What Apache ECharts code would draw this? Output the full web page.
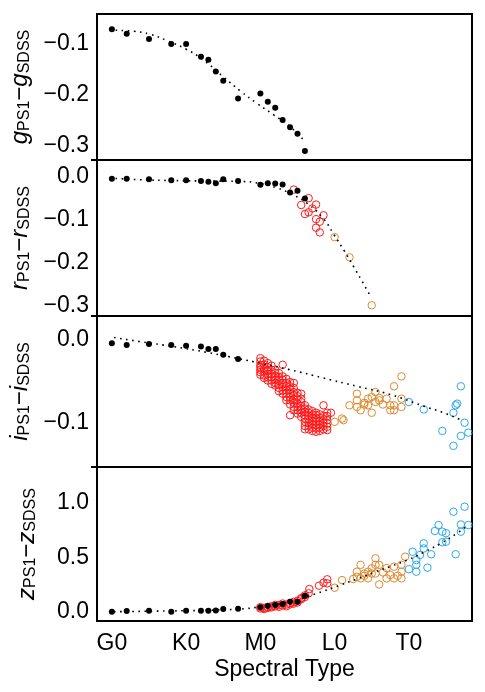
<!DOCTYPE html>
<html>
<head>
<meta charset="utf-8">
<script src="https://cdn.jsdelivr.net/npm/echarts@6/dist/echarts.min.js"></script>
<style>
html, body { margin: 0; padding: 0; background: #fff; }
#chart { width: 485px; height: 692px; }
</style>
</head>
<body>
<div id="chart"></div>
<script>
// spectral type axis: G0=0, K0=10, M0=20, L0=30, T0=40
const xMajor = [0, 10, 20, 30, 40];
const xLabels = ['G0', 'K0', 'M0', 'L0', 'T0'];
const xMinor = [2, 4, 6, 8, 12, 14, 16, 18, 22, 24, 26, 28, 32, 34, 36, 38, 42, 44, 46, 48];

const gMajor = [-0.1, -0.2, -0.3];
const gLabels = ['−0.1', '−0.2', '−0.3'];
const gMinor = [-0.05, -0.075, -0.125, -0.15, -0.175, -0.225, -0.25, -0.275, -0.325];
const rMajor = [0, -0.1, -0.2, -0.3];
const rLabels = ['0.0', '−0.1', '−0.2', '−0.3'];
const rMinor = [0.025, -0.025, -0.05, -0.075, -0.125, -0.15, -0.175, -0.225, -0.25, -0.275];
const iMajor = [0, -0.1];
const iLabels = ['0.0', '−0.1'];
const iMinor = [-0.025, -0.05, -0.075, -0.125, -0.15];
const zMajor = [0, 0.5, 1.0];
const zLabels = ['0.0', '0.5', '1.0'];
const zMinor = [0.1, 0.2, 0.3, 0.4, 0.6, 0.7, 0.8, 0.9, 1.1, 1.2, 1.3];

// g panel
const gBlack = [[0,-0.071],[2,-0.080],[5,-0.090],[8,-0.100],[10,-0.100],[12,-0.125],[13,-0.131],[14,-0.154],[15,-0.172],[17,-0.207],[20,-0.197],[21,-0.213],[22,-0.225],[23,-0.249],[24,-0.263],[25,-0.276],[26,-0.310]];
const gFit = [[0.5,-0.073],[3,-0.075],[5.2,-0.081],[7.4,-0.093],[10,-0.110],[12.3,-0.131],[15,-0.164],[17.3,-0.192],[19.5,-0.216],[21.8,-0.239],[24,-0.262],[25.8,-0.288]];

// r panel
const rBlack = [[0,-0.005],[2,-0.005],[5,-0.006],[8,-0.008],[10,-0.008],[12,-0.010],[13,-0.012],[14,-0.015],[15,-0.006],[17,-0.010],[20,-0.019],[21,-0.015],[22,-0.016],[23,-0.018],[24,-0.037],[25,-0.033],[26,-0.051]];
const rRed = [[24.5,-0.030],[26.5,-0.050],[25.5,-0.066],[27,-0.074],[27.5,-0.065],[26.5,-0.083],[26,-0.087],[28.5,-0.090],[27.5,-0.099],[28,-0.105],[27.5,-0.119],[28,-0.130]];
const rOrange = [[30,-0.141],[32,-0.188],[35,-0.300]];
const rFit = [[0.5,-0.004],[3.8,-0.007],[8.3,-0.009],[12.8,-0.010],[17.3,-0.011],[20,-0.016],[22.2,-0.026],[24,-0.039],[26.3,-0.062],[28.5,-0.098],[29.9,-0.135],[31.3,-0.173],[32.6,-0.211],[33.7,-0.244],[34.8,-0.278]];

// i panel
const iBlack = [[0,-0.004],[2,-0.006],[5,-0.005],[8,-0.006],[10,-0.007],[12,-0.008],[13,-0.011],[14,-0.011],[15,-0.018],[17,-0.023]];
const iRed = [
  [20,-0.022],[20,-0.026],[20,-0.030],[20,-0.033],[20,-0.036],[20,-0.039],[20,-0.042],
  [20.5,-0.025],[20.5,-0.030],[20.5,-0.035],[20.5,-0.038],[20.5,-0.043],[20.5,-0.046],
  [21,-0.028],[21,-0.033],[21,-0.037],[21,-0.041],[21,-0.045],[21,-0.049],
  [21.5,-0.031],[21.5,-0.036],[21.5,-0.041],[21.5,-0.045],[21.5,-0.049],[21.5,-0.053],
  [22,-0.036],[22,-0.040],[22,-0.044],[22,-0.048],[22,-0.052],[22,-0.055],
  [22.5,-0.040],[22.5,-0.045],[22.5,-0.049],[22.5,-0.054],[22.5,-0.058],[22.5,-0.062],
  [23,-0.030],[23,-0.044],[23,-0.048],[23,-0.052],[23,-0.057],[23,-0.061],[23,-0.065],
  [23.5,-0.047],[23.5,-0.052],[23.5,-0.056],[23.5,-0.061],[23.5,-0.065],[23.5,-0.069],[23.5,-0.073],
  [24,-0.051],[24,-0.056],[24,-0.060],[24,-0.065],[24,-0.069],[24,-0.073],[24,-0.078],[24,-0.091],
  [24.5,-0.052],[24.5,-0.058],[24.5,-0.063],[24.5,-0.067],[24.5,-0.072],[24.5,-0.076],[24.5,-0.081],[24.5,-0.085],
  [25,-0.064],[25,-0.068],[25,-0.072],[25,-0.077],[25,-0.081],[25,-0.085],[25,-0.089],
  [25.5,-0.065],[25.5,-0.071],[25.5,-0.075],[25.5,-0.080],[25.5,-0.084],[25.5,-0.088],[25.5,-0.093],
  [26,-0.079],[26,-0.083],[26,-0.087],[26,-0.091],[26,-0.095],[26,-0.099],[26,-0.104],[26,-0.108],
  [26.5,-0.084],[26.5,-0.088],[26.5,-0.092],[26.5,-0.096],[26.5,-0.100],[26.5,-0.104],[26.5,-0.108],
  [27,-0.086],[27,-0.090],[27,-0.094],[27,-0.098],[27,-0.102],[27,-0.106],[27,-0.110],
  [27.5,-0.088],[27.5,-0.091],[27.5,-0.095],[27.5,-0.099],[27.5,-0.103],[27.5,-0.107],[27.5,-0.111],
  [28,-0.090],[28,-0.094],[28,-0.098],[28,-0.102],[28,-0.106],[28,-0.110],
  [28.5,-0.079],[28.5,-0.092],[28.5,-0.096],[28.5,-0.100],[28.5,-0.104],[28.5,-0.108],
  [29,-0.088],[29,-0.092],[29,-0.097],[29,-0.101],[29,-0.105],[29,-0.109],[29.5,-0.088]
];
const iOrange = [[30,-0.099],[31,-0.095],[31.2,-0.097],[32,-0.079],[33,-0.065],[33,-0.073],[33,-0.081],[33.5,-0.085],[34,-0.078],[34,-0.076],[34.5,-0.071],[34.5,-0.079],[35,-0.088],[35,-0.069],[35.5,-0.063],[35.5,-0.075],[36,-0.070],[36,-0.073],[36.5,-0.078],[37,-0.071],[37.5,-0.079],[37.5,-0.085],[38,-0.056],[38,-0.079],[38,-0.085],[39,-0.044],[39,-0.071],[39,-0.081]];
const iBlue = [[40,-0.075],[42,-0.084],[44.5,-0.110],[46,-0.128],[46,-0.088],[46.3,-0.079],[46.5,-0.077],[47,-0.056],[47,-0.116],[47.5,-0.100],[48,-0.112]];
const iFit = [[0.3,0.003],[3.8,-0.002],[8.3,-0.008],[12.8,-0.015],[17.3,-0.023],[20,-0.028],[24,-0.036],[28.5,-0.046],[33,-0.056],[37.5,-0.066],[42,-0.080],[44.7,-0.088],[47.3,-0.098]];

// z panel
const zBlack = [[0,0.000],[2,0.006],[5,0.009],[8,0.000],[10,0.009],[12,0.009],[13,0.009],[14,0.012],[15,0.025],[17,0.028],[20,0.040],[21,0.052],[22,0.061],[23,0.070],[24,0.092],[25,0.092],[26,0.146]];
const zRed = [[20,0.030],[20,0.042],[20.5,0.035],[20.5,0.025],[21,0.045],[21,0.035],[21.5,0.050],[21.5,0.040],[22,0.050],[22,0.062],[22.5,0.045],[22.5,0.060],[23,0.058],[23,0.075],[23.5,0.065],[23.5,0.050],[24,0.080],[24,0.068],[24.5,0.090],[24.5,0.075],[25,0.100],[25,0.085],[25.5,0.115],[25.5,0.125],[26,0.135],[26,0.150],[26.5,0.169],[26.6,0.208],[27.9,0.239],[28.5,0.266],[29,0.297],[29,0.260]];
const zOrange = [[30,0.22],[31,0.29],[33,0.367],[33,0.32],[33.5,0.43],[33.5,0.306],[34,0.35],[34.5,0.367],[34.5,0.306],[35,0.398],[35,0.35],[35.5,0.49],[35.5,0.43],[35.5,0.35],[36,0.43],[36,0.25],[36.5,0.36],[37,0.40],[37,0.306],[37.5,0.337],[38,0.413],[38,0.306],[39,0.43],[39,0.367],[39,0.306],[39.5,0.505],[38.5,0.33],[32.5,0.30],[34,0.33]];
const zBlue = [[40,0.39],[40.5,0.55],[41,0.474],[41,0.43],[41,0.367],[41.5,0.52],[42,0.58],[42,0.627],[42.5,0.404],[43,0.527],[43.5,0.74],[44,0.795],[44.5,0.637],[44.5,0.734],[45,0.642],[45,0.72],[46,0.917],[46.3,0.527],[47,0.80],[47,0.734],[47.5,0.963],[48,0.795]];
const zFit = [[0.3,0.0],[6.1,0.006],[12.8,0.013],[17.3,0.025],[20,0.046],[24,0.092],[27.6,0.169],[30.8,0.245],[33,0.300],[35.3,0.360],[37.5,0.415],[39.8,0.474],[42,0.545],[44.3,0.627],[46.5,0.720],[47.9,0.790]];

const FONT = '"Liberation Sans", Arial, sans-serif';
const RED = '#ff1a1a', ORANGE = '#dc8a30', BLUE = '#2aa8ee';
const X_MIN = -2, X_MAX = 48.5;
const MAJOR_LEN = 8, MINOR_LEN = 4;

const panels = [
    {top: 14, height: 146, min: -0.3275, max: -0.041, major: gMajor, labels: gLabels, minor: gMinor, v: 'g',
     sets: [[gBlack, 'black']], fit: gFit},
    {top: 160, height: 156, min: -0.325, max: 0.039, major: rMajor, labels: rLabels, minor: rMinor, v: 'r',
     sets: [[rRed, RED], [rOrange, ORANGE], [rBlack, 'black']], fit: rFit},
    {top: 316, height: 151, min: -0.1536, max: 0.029, major: iMajor, labels: iLabels, minor: iMinor, v: 'i',
     sets: [[iRed, RED], [iOrange, ORANGE], [iBlue, BLUE], [iBlack, 'black']], fit: iFit},
    {top: 467, height: 154, min: -0.085, max: 1.327, major: zMajor, labels: zLabels, minor: zMinor, v: 'z',
     sets: [[zRed, RED], [zOrange, ORANGE], [zBlue, BLUE], [zBlack, 'black']], fit: zFit}
];

const labelFor = (ticks, texts) => (val) => {
    const k = ticks.findIndex(t => Math.abs(t - val) < 1e-9);
    return k >= 0 ? texts[k] : '';
};

const grid = [], xAxis = [], yAxis = [], series = [], graphic = [];
panels.forEach((p, n) => {
    const last = n === panels.length - 1;
    grid.push({left: 97, width: 375, top: p.top, height: p.height,
               show: true, borderColor: '#000', borderWidth: 2, backgroundColor: 'transparent'});
    xAxis.push({
        type: 'value', gridIndex: n, position: 'bottom', min: X_MIN, max: X_MAX,
        axisLine: {show: false, onZero: false},
        axisTick: {show: false},
        axisLabel: {show: last, customValues: xMajor, formatter: labelFor(xMajor, xLabels),
                    color: '#000', fontSize: 23, fontFamily: FONT, margin: 11},
        splitLine: {show: false},
        name: last ? 'Spectral Type' : '',
        nameLocation: 'middle', nameGap: 37,
        nameTextStyle: {color: '#000', fontSize: 23, fontFamily: FONT}
    });
    yAxis.push({
        type: 'value', gridIndex: n, position: 'left', min: p.min, max: p.max,
        axisLine: {show: false, onZero: false},
        axisTick: {show: false},
        axisLabel: {customValues: p.major, formatter: labelFor(p.major, p.labels),
                    color: '#000', fontSize: 23, fontFamily: FONT, margin: 8},
        splitLine: {show: false},
        name: `{v|${p.v}}{s|PS1}{m|−}{v|${p.v}}{s|SDSS}`,
        nameLocation: 'middle', nameRotate: 90, nameGap: 58,
        nameTextStyle: {
            color: '#000', fontFamily: FONT,
            rich: {
                v: {fontFamily: FONT, fontStyle: 'italic', fontSize: 24, lineHeight: 28, verticalAlign: 'bottom', color: '#000'},
                m: {fontFamily: FONT, fontSize: 24, lineHeight: 28, verticalAlign: 'bottom', color: '#000'},
                s: {fontFamily: FONT, fontSize: 16, lineHeight: 14, verticalAlign: 'bottom', color: '#000'}
            }
        }
    });
    // small outward stub where two panels meet on the left frame
    if (n > 0) {
        graphic.push({type: 'line', shape: {x1: 91, y1: p.top, x2: 97, y2: p.top}, style: {stroke: '#000', lineWidth: 2}});
    }

    p.sets.forEach(([data, color]) => {
        const filled = color === 'black';
        series.push({
            type: 'scatter', xAxisIndex: n, yAxisIndex: n, data,
            symbol: 'circle', symbolSize: filled ? 6 : 7.5,
            itemStyle: filled ? {color: '#000', opacity: 1} : {color: 'rgba(0,0,0,0)', borderColor: color, borderWidth: 1, opacity: 1},
            silent: true
        });
    });
    series.push({
        type: 'line', xAxisIndex: n, yAxisIndex: n, data: p.fit,
        smooth: true, showSymbol: false, silent: true,
        lineStyle: {color: '#000', width: 1.6, type: [1.6, 4.5]}
    });
});

const chart = echarts.init(document.getElementById('chart'));
chart.setOption({animation: false, backgroundColor: '#fff', grid, xAxis, yAxis, series, graphic});

// inward ticks on all four sides, placed through each panel's own axes once the layout is done
const tickLine = (pt, dx, dy, len) => ({
    type: 'line', silent: true, z: 100,
    shape: {x1: pt[0], y1: pt[1], x2: pt[0] + dx * len, y2: pt[1] + dy * len},
    style: {stroke: '#000', lineWidth: len === MAJOR_LEN ? 1.5 : 1.2}
});
let ticksDone = false;
const addTicks = () => {
    if (ticksDone) return;
    ticksDone = true;
    const ticks = [];
    panels.forEach((p, n) => {
        const at = (x, y) => chart.convertToPixel({xAxisIndex: n, yAxisIndex: n}, [x, y]);
        const push = (pt, dx, dy, len) => {
            if (pt && isFinite(pt[0]) && isFinite(pt[1])) ticks.push(tickLine(pt, dx, dy, len));
        };
        [[xMajor, MAJOR_LEN], [xMinor, MINOR_LEN]].forEach(([vals, len]) => vals.forEach(v => {
            push(at(v, p.min), 0, -1, len);
            push(at(v, p.max), 0, 1, len);
        }));
        [[p.major, MAJOR_LEN], [p.minor, MINOR_LEN]].forEach(([vals, len]) => vals.forEach(v => {
            push(at(X_MIN, v), 1, 0, len);
            push(at(X_MAX, v), -1, 0, len);
        }));
    });
    if (ticks.length) chart.setOption({graphic: graphic.concat(ticks)});
};
chart.on('finished', addTicks);
window.addEventListener('resize', () => chart.resize());
</script>
</body>
</html>
